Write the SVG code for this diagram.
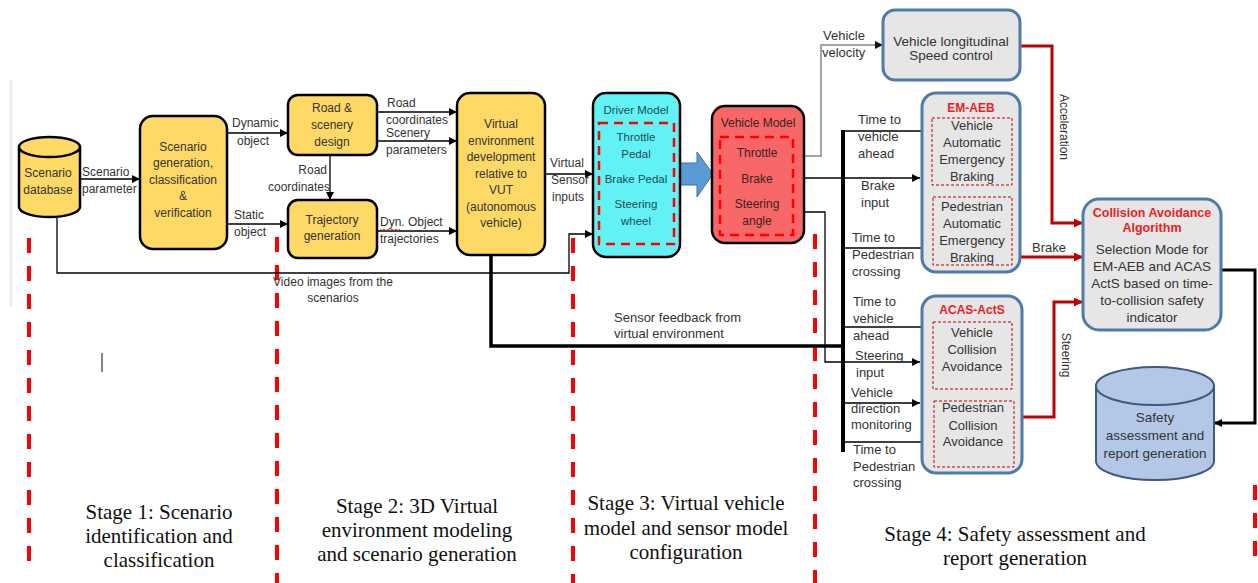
<svg xmlns="http://www.w3.org/2000/svg" width="1258" height="583" viewBox="0 0 1258 583">
<style>
.t{font-family:"Liberation Sans",Arial,sans-serif;font-size:12px;fill:#333}
.t13{font-size:13px}
.t135{font-size:13.5px}
.m{text-anchor:middle}
.yb{fill:#FFD966;stroke:#000;stroke-width:2.5}
.gb{fill:#E7E6E6;stroke:#4F7BAA;stroke-width:3}
.ttl{font-weight:bold;fill:#EE1C25}
.ln{fill:none;stroke:#000;stroke-width:1.3}
.rl{fill:none;stroke:#C00000;stroke-width:3}
.stg{stroke:#FF0000;stroke-width:4;stroke-dasharray:15 13}
.idr{fill:none;stroke:#FF0000;stroke-width:2.5;stroke-dasharray:9 6}
.idg{fill:none;stroke:#C00000;stroke-width:1;stroke-dasharray:3 2}
.st{font-family:"Liberation Serif","Times New Roman",serif;font-size:21px;fill:#111;text-anchor:middle}
</style>
<defs>
<marker id="ab" viewBox="0 0 10 10" refX="10" refY="5" markerWidth="9" markerHeight="8" markerUnits="userSpaceOnUse" orient="auto"><path d="M0,0 L10,5 L0,10 z" fill="#000"/></marker>
<marker id="ag" viewBox="0 0 10 10" refX="10" refY="5" markerWidth="9" markerHeight="8" markerUnits="userSpaceOnUse" orient="auto"><path d="M0,0 L10,5 L0,10 z" fill="#111"/></marker>
<marker id="ar" viewBox="0 0 10 10" refX="10" refY="5" markerWidth="10" markerHeight="9" markerUnits="userSpaceOnUse" orient="auto"><path d="M0,0 L10,5 L0,10 z" fill="#C00000"/></marker>
</defs>
<rect width="1258" height="583" fill="#fff"/>
<line x1="11" y1="80" x2="11" y2="306" stroke="#ececec" stroke-width="3"/>
<line x1="102" y1="353" x2="102" y2="372" stroke="#444" stroke-width="1.3"/>

<g id="stage-lines">
<line class="stg" x1="29" y1="238" x2="29" y2="562"/>
<line class="stg" x1="277" y1="237" x2="277" y2="583"/>
<line class="stg" x1="573" y1="238" x2="573" y2="583"/>
<line class="stg" x1="815" y1="234" x2="815" y2="583"/>
<line class="stg" x1="1255" y1="485" x2="1255" y2="562"/>
</g>

<g id="connectors">
<path class="ln" d="M80,179 H140" marker-end="url(#ab)"/>
<path class="ln" d="M227,133 H288" marker-end="url(#ab)"/>
<path class="ln" d="M227,224 H288" marker-end="url(#ab)"/>
<path class="ln" d="M330,155 V200" marker-end="url(#ab)"/>
<path class="ln" d="M377,112 H457" marker-end="url(#ab)"/>
<path class="ln" d="M377,141 H457" marker-end="url(#ab)"/>
<path class="ln" d="M377,231 H457" marker-end="url(#ab)"/>
<path class="ln" d="M545,174 H593" marker-end="url(#ab)"/>
<path class="ln" d="M57,218 V273 H569 V234 H593" marker-end="url(#ab)"/>
<path fill="none" stroke="#000" stroke-width="3.5" d="M491,255 V346 H843"/>
<path fill="none" stroke="#888" stroke-width="1.5" d="M804,156 H821 V45 H883" marker-end="url(#ag)"/>
<path class="ln" d="M804,178 H920" marker-end="url(#ab)"/>
<path class="ln" d="M804,212 H825 V362 H920" marker-end="url(#ab)"/>
<path fill="none" stroke="#000" stroke-width="4" d="M843,130 V452"/>
<path class="ln" d="M843,131 H932" marker-end="url(#ab)"/>
<path class="ln" d="M843,248 H932" marker-end="url(#ab)"/>
<path class="ln" d="M843,327 H932" marker-end="url(#ab)"/>
<path class="ln" d="M843,403 H920" marker-end="url(#ab)"/>
<path class="ln" d="M843,442 H933" marker-end="url(#ab)"/>
<path class="rl" d="M1020,46 H1052 V223 H1083" marker-end="url(#ar)"/>
<path class="rl" d="M1020,257 H1083" marker-end="url(#ar)"/>
<path class="rl" d="M1020,417 H1054 V302 H1083" marker-end="url(#ar)"/>
<path fill="none" stroke="#000" stroke-width="3" d="M1221,270 H1255 V423 H1214" marker-end="url(#ab)"/>
<polygon points="680,163 697,163 697,152 713,174 697,197 697,185 680,185" fill="#5B9BD5" stroke="#41719C" stroke-width="1"/>
</g>

<g id="connector-labels" class="t">
<text x="82" y="176">Scenario</text>
<text x="82" y="193">parameter</text>
<text x="232" y="127">Dynamic</text>
<text x="237" y="145">object</text>
<text x="234" y="219">Static</text>
<text x="234" y="236">object</text>
<text x="327" y="174" text-anchor="end">Road</text>
<text x="330" y="191" text-anchor="end">coordinates</text>
<text x="387" y="107">Road</text>
<text x="386" y="124">coordinates</text>
<text x="386" y="137">Scenery</text>
<text x="386" y="154">parameters</text>
<text x="380" y="226">Dyn. Object</text>
<path d="M380,229 l2,1.5 2,-1.5 2,1.5 2,-1.5 2,1.5 2,-1.5 2,1.5 2,-1.5 2,1.5 2,-1.5" fill="none" stroke="#E02020" stroke-width="0.8"/>
<text x="380" y="243">trajectories</text>
<text x="550" y="167">Virtual</text>
<text x="551" y="184">Sensor</text>
<text x="552" y="201">inputs</text>
<text x="333" y="286" class="m">Video images from the</text>
<text x="333" y="302" class="m">scenarios</text>
<text x="614" y="322" class="t13">Sensor feedback from</text>
<text x="614" y="338" class="t13">virtual environment</text>
<text x="823" y="40" class="t13">Vehicle</text>
<text x="822" y="57" class="t13">velocity</text>
<g class="t13">
<text x="858" y="124">Time to</text>
<text x="858" y="141">vehicle</text>
<text x="858" y="158">ahead</text>
<text x="861" y="190">Brake</text>
<text x="861" y="207">input</text>
<text x="852" y="242">Time to</text>
<text x="852" y="259">Pedestrian</text>
<text x="852" y="276">crossing</text>
<text x="853" y="306">Time to</text>
<text x="853" y="323">vehicle</text>
<text x="853" y="340">ahead</text>
<text x="855" y="360">Steering</text>
<text x="856" y="377">input</text>
<text x="851" y="397">Vehicle</text>
<text x="851" y="413">direction</text>
<text x="851" y="429">monitoring</text>
<text x="853" y="454">Time to</text>
<text x="853" y="471">Pedestrian</text>
<text x="853" y="487">crossing</text>
<text x="1032" y="252">Brake</text>
</g>
<text x="1064" y="127" class="m" dominant-baseline="central" transform="rotate(90 1064 127)">Acceleration</text>
<text x="1066" y="355" class="m" dominant-baseline="central" transform="rotate(90 1066 355)">Steering</text>
</g>

<g id="scenario-database">
<path d="M19,147 V207 A30.5,10 0 0 0 80,207 V147" fill="#FFD966" stroke="#000" stroke-width="2.5"/>
<ellipse cx="49.5" cy="147" rx="30.5" ry="10" fill="#FFD966" stroke="#000" stroke-width="2.5"/>
<text class="t m" x="48" y="177">Scenario</text>
<text class="t m" x="48" y="194">database</text>
</g>

<g id="scenario-generation">
<rect class="yb" x="140" y="116" width="87" height="133" rx="13"/>
<text class="t m" x="183" y="151">Scenario</text>
<text class="t m" x="183" y="167">generation,</text>
<text class="t m" x="183" y="184">classification</text>
<text class="t m" x="183" y="200">&amp;</text>
<text class="t m" x="183" y="217">verification</text>
</g>

<g id="road-scenery">
<rect class="yb" x="288" y="95" width="89" height="60" rx="10"/>
<text class="t m" x="332" y="112">Road &amp;</text>
<text class="t m" x="332" y="129">scenery</text>
<text class="t m" x="332" y="146">design</text>
</g>

<g id="trajectory">
<rect class="yb" x="288" y="200" width="89" height="58" rx="10"/>
<text class="t m" x="332" y="224">Trajectory</text>
<text class="t m" x="332" y="240">generation</text>
</g>

<g id="virtual-env">
<rect class="yb" x="457" y="93" width="88" height="162" rx="13"/>
<text class="t m" x="501" y="128">Virtual</text>
<text class="t m" x="501" y="145">environment</text>
<text class="t m" x="501" y="161">development</text>
<text class="t m" x="501" y="178">relative to</text>
<text class="t m" x="501" y="194">VUT</text>
<text class="t m" x="501" y="211">(autonomous</text>
<text class="t m" x="501" y="227">vehicle)</text>
</g>

<g id="driver-model">
<rect x="593" y="93" width="87" height="164" rx="13" fill="#62F2F5" stroke="#000" stroke-width="2.5"/>
<rect class="idr" x="599" y="123" width="75" height="121"/>
<g class="t m" style="fill:#1E4B57;font-size:11.5px">
<text x="636" y="114">Driver Model</text>
<text x="636" y="141">Throttle</text>
<text x="636" y="158">Pedal</text>
<text x="636" y="183">Brake Pedal</text>
<text x="636" y="208">Steering</text>
<text x="636" y="225">wheel</text>
</g>
</g>

<g id="vehicle-model">
<rect x="712" y="106" width="92" height="137" rx="13" fill="#F86767" stroke="#000" stroke-width="2.5"/>
<rect class="idr" x="720" y="137" width="73" height="98"/>
<g class="t m" style="fill:#3A2222">
<text x="758" y="127">Vehicle Model</text>
<text x="757" y="157">Throttle</text>
<text x="757" y="183">Brake</text>
<text x="757" y="208">Steering</text>
<text x="757" y="225">angle</text>
</g>
</g>

<g id="speed-control">
<rect class="gb" x="883" y="10" width="137" height="70" rx="12"/>
<text class="t t135 m" x="951" y="46">Vehicle longitudinal</text>
<text class="t t135 m" x="951" y="60">Speed control</text>
</g>

<g id="em-aeb">
<rect class="gb" x="922" y="93" width="98" height="179" rx="14"/>
<text class="t m ttl" x="971" y="112">EM-AEB</text>
<rect class="idg" x="932" y="118" width="80" height="67"/>
<g class="t t13 m">
<text x="972" y="130">Vehicle</text>
<text x="972" y="147">Automatic</text>
<text x="972" y="164">Emergency</text>
<text x="972" y="181">Braking</text>
<text x="972" y="211">Pedestrian</text>
<text x="972" y="228">Automatic</text>
<text x="972" y="245">Emergency</text>
<text x="972" y="262">Braking</text>
</g>
<rect class="idg" x="933" y="197" width="79" height="68"/>
</g>

<g id="acas-acts">
<rect class="gb" x="922" y="296" width="100" height="177" rx="14"/>
<text class="t m ttl" x="972" y="314">ACAS-ActS</text>
<rect class="idg" x="933" y="322" width="79" height="67"/>
<rect class="idg" x="934" y="401" width="80" height="66"/>
<g class="t t13 m">
<text x="972" y="337">Vehicle</text>
<text x="972" y="354">Collision</text>
<text x="972" y="371">Avoidance</text>
<text x="973" y="412">Pedestrian</text>
<text x="973" y="430">Collision</text>
<text x="973" y="446">Avoidance</text>
</g>
</g>

<g id="collision-avoidance">
<rect class="gb" x="1083" y="199" width="138" height="131" rx="16"/>
<text class="t m ttl" x="1152" y="217" style="font-size:12.5px">Collision  Avoidance</text>
<text class="t m ttl" x="1152" y="232" style="font-size:12.5px">Algorithm</text>
<g class="t t135 m">
<text x="1152" y="254">Selection Mode for</text>
<text x="1152" y="271">EM-AEB and ACAS</text>
<text x="1152" y="288">ActS based on time-</text>
<text x="1152" y="305">to-collision safety</text>
<text x="1152" y="322">indicator</text>
</g>
</g>

<g id="safety-report">
<path d="M1096,386 V461 A59,19 0 0 0 1214,461 V386" fill="#B4C7E7" stroke="#3D5A80" stroke-width="2"/>
<ellipse cx="1155" cy="386" rx="59" ry="19" fill="#B4C7E7" stroke="#3D5A80" stroke-width="2"/>
<g class="t t135 m">
<text x="1155" y="422">Safety</text>
<text x="1155" y="440">assessment and</text>
<text x="1155" y="458">report generation</text>
</g>
</g>

<g id="stage-labels">
<text class="st" x="159" y="519">Stage 1: Scenario</text>
<text class="st" x="159" y="543">identification and</text>
<text class="st" x="159" y="567">classification</text>
<text class="st" x="417" y="513">Stage 2: 3D Virtual</text>
<text class="st" x="417" y="537">environment modeling</text>
<text class="st" x="417" y="561">and scenario generation</text>
<text class="st" x="686" y="510">Stage 3: Virtual vehicle</text>
<text class="st" x="686" y="535">model and sensor model</text>
<text class="st" x="686" y="559">configuration</text>
<text class="st" x="1015" y="541">Stage 4: Safety assessment and</text>
<text class="st" x="1015" y="565">report generation</text>
</g>
</svg>
